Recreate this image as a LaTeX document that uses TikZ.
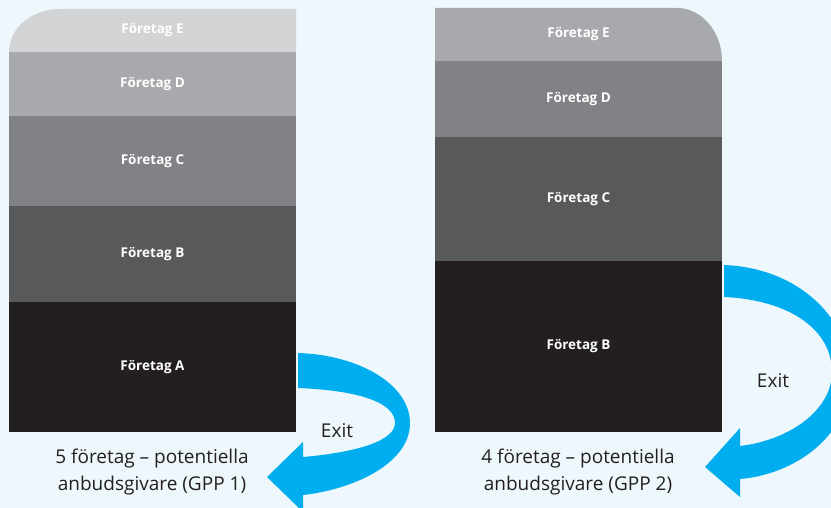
\documentclass[tikz,border=0pt]{standalone}
\usepackage{fontspec}
\setmainfont{Open Sans}
\definecolor{bgblue}{HTML}{EEF7FB}
\definecolor{exitblue}{HTML}{00AEEF}
\definecolor{greyE}{HTML}{D1D3D4}
\definecolor{greyD}{HTML}{A7A9AC}
\definecolor{greyC}{HTML}{808285}
\definecolor{greyB}{HTML}{58595B}
\definecolor{greyA}{HTML}{231F20}
\tikzset{
  band/.style={inner sep=0pt, minimum width=287pt, text=white,
    font=\fontsize{13.5}{16}\selectfont\bfseries},
  caption/.style={text=greyA, align=center,
    font=\fontsize{19}{27}\selectfont},
  exitlabel/.style={text=greyA, font=\fontsize{19}{22}\selectfont}
}
\begin{document}
\begin{tikzpicture}[x=1pt,y=-1pt]
\useasboundingbox (0,0) rectangle (831,508);
\clip (0,0) rectangle (831,508);
\fill [bgblue] (0,0) rectangle (831,508);
% left pile, five companies
\fill [greyE] (9,52) .. controls (9,28) and (32,9) .. (60,9) -- (296,9) -- (296,52) -- cycle;
\node [band, minimum height=43pt] (l-e) at (152.5,30.5) {Företag E};
\node [band, fill=greyD, minimum height=64pt] (l-d) at (152.5,84) {Företag D};
\node [band, fill=greyC, minimum height=90pt] (l-c) at (152.5,161) {Företag C};
\node [band, fill=greyB, minimum height=96pt] (l-b) at (152.5,254) {Företag B};
\node [band, fill=greyA, minimum height=130pt] (l-a) at (152.5,367) {Företag A};
% right pile, four companies
\fill [greyD] (435,61) -- (435,8) -- (677,8) .. controls (702,8) and (722,32) .. (722,61) -- cycle;
\node [band, minimum height=53pt] (r-e) at (578.5,34.5) {Företag E};
\node [band, fill=greyC, minimum height=76pt] (r-d) at (578.5,99) {Företag D};
\node [band, fill=greyB, minimum height=124pt] (r-c) at (578.5,199) {Företag C};
\node [band, fill=greyA, minimum height=171pt] (r-b) at (578.5,346.5) {Företag B};
% exit arrows
\fill [exitblue] (298,353) .. controls (360,355) and (410,385) .. (410,423)
  .. controls (410,465) and (350,490) .. (303,495) -- (303,512) -- (267,477)
  -- (303,442) -- (303,457) .. controls (360,452) and (395,440) .. (395,423)
  .. controls (395,400) and (350,390) .. (298,388) -- cycle;
\fill [exitblue] (724,265) .. controls (800,268) and (850,320) .. (850,375)
  .. controls (850,440) and (790,475) .. (740,479) -- (740,497) -- (705,467)
  -- (740,428) -- (740,446) .. controls (790,440) and (832,410) .. (832,372)
  .. controls (832,330) and (790,300) .. (724,297) -- cycle;
\node [exitlabel] (l-exit) at (337,431) {Exit};
\node [exitlabel] (r-exit) at (773,381) {Exit};
% captions
\node [caption] (l-cap) at (152,472) {5 företag – potentiella\\anbudsgivare (GPP 1)};
\node [caption] (r-cap) at (578,472) {4 företag – potentiella\\anbudsgivare (GPP 2)};
\end{tikzpicture}
\end{document}
